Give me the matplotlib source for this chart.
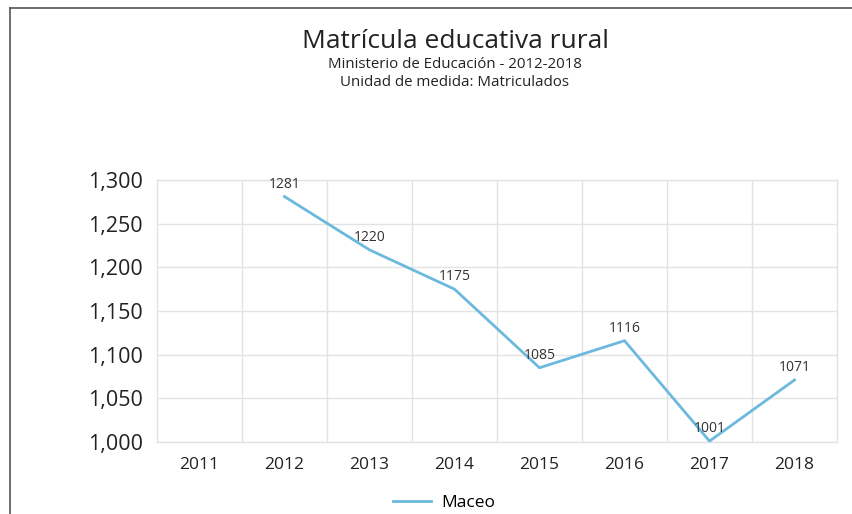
import matplotlib
matplotlib.use("Agg")
import matplotlib.pyplot as plt
from matplotlib.lines import Line2D
from matplotlib.ticker import FuncFormatter

years = ["2011", "2012", "2013", "2014", "2015", "2016", "2017", "2018"]
maceo = [None, 1281, 1220, 1175, 1085, 1116, 1001, 1071]
y_ticks = [1000, 1050, 1100, 1150, 1200, 1250, 1300]

LINE_COLOR = "#6cb9de"
GRID_COLOR = "#e3e3e3"
TEXT_COLOR = "#222222"

plt.rcParams["font.family"] = ["Open Sans", "DejaVu Sans"]

fig = plt.figure(figsize=(8.52, 5.14), dpi=100)
ax = fig.add_axes([157 / 852, 1 - 442 / 514, 680 / 852, 262 / 514])

xs = [i for i, v in enumerate(maceo) if v is not None]
ys = [v for v in maceo if v is not None]
ax.plot(xs, ys, color=LINE_COLOR, linewidth=2, clip_on=False, zorder=3)
for x, y in zip(xs, ys):
    ax.annotate(str(y), (x, y), xytext=(0, 3.5), textcoords="offset points",
                ha="center", va="bottom", fontsize=10, color="#333333", zorder=4)

ax.set_xlim(-0.5, len(years) - 0.5)
ax.set_ylim(1000, 1300)
ax.set_xticks(range(len(years)))
ax.set_xticklabels(years)
ax.set_yticks(y_ticks)
ax.yaxis.set_major_formatter(FuncFormatter(lambda v, _: f"{v:,.0f}"))
ax.set_xticks([i + 0.5 for i in range(len(years) - 1)], minor=True)

ax.grid(True, axis="y", color=GRID_COLOR, linewidth=1)
ax.grid(True, axis="x", which="minor", color=GRID_COLOR, linewidth=1)
ax.set_axisbelow(True)
for side in ax.spines:
    ax.spines[side].set_color(GRID_COLOR)
    ax.spines[side].set_linewidth(1)
ax.tick_params(axis="both", which="both", length=0)
ax.tick_params(axis="x", labelsize=12.5, colors=TEXT_COLOR, pad=10.5)
ax.tick_params(axis="y", labelsize=15.5, colors=TEXT_COLOR, pad=10)

fig.text(455 / 852, 1 - 42 / 514, "Matrícula educativa rural", ha="center", va="center",
         fontsize=19, color=TEXT_COLOR)
fig.text(455 / 852, 1 - 65 / 514, "Ministerio de Educación - 2012-2018", ha="center",
         va="center", fontsize=10.8, color=TEXT_COLOR)
fig.text(455 / 852, 1 - 82 / 514, "Unidad de medida: Matriculados", ha="center",
         va="center", fontsize=10.8, color=TEXT_COLOR)

handle = Line2D([], [], color=LINE_COLOR, linewidth=2)
fig.legend([handle], ["Maceo"], loc="center", bbox_to_anchor=(444 / 852, 1 - 503 / 514),
           frameon=False, fontsize=12.5, handlelength=2.2, handletextpad=0.6)

# outer frame (top and left edges visible in the crop)
fig.add_artist(Line2D([10 / 852, 1], [1 - 8 / 514, 1 - 8 / 514], color="#555555", linewidth=1.2))
fig.add_artist(Line2D([10 / 852, 10 / 852], [0, 1 - 8 / 514], color="#555555", linewidth=1.2))

fig.savefig("out.png", dpi=100)
